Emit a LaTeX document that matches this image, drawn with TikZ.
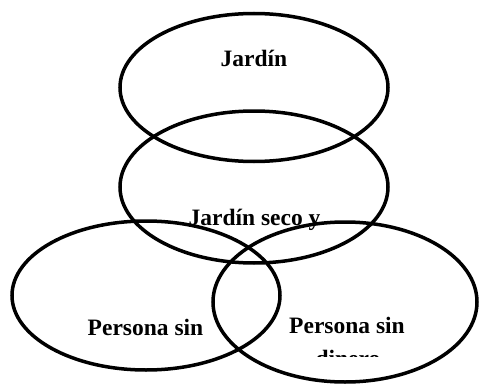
\documentclass[tikz,border=0pt]{standalone}
\usepackage{fontspec}
\setmainfont{Liberation Serif}
\usetikzlibrary{shapes.geometric}
\begin{document}
\begin{tikzpicture}[x=1pt,y=1pt,
  ring/.style={ellipse, draw=black, line width=3.5pt, inner sep=0pt},
  lbl/.style={font=\fontsize{23.5}{27}\selectfont\bfseries, inner sep=0pt, anchor=base}]
\useasboundingbox (0,0) rectangle (480,384);
\node[lbl] (t1) at (254,318) {Jardín};
\node[lbl] (t2) at (254.5,159) {Jardín seco y};
\node[lbl] (t3) at (145.5,49) {Persona sin};
\node[lbl] (t4) at (347,51) {Persona sin};
\begin{scope}
\clip (280,27.5) rectangle (420,40);
\node[lbl] (t5) at (348,18) {dinero};
\end{scope}
\node[ring, minimum width=268pt, minimum height=148pt] (e1) at (254,296.5) {};
\node[ring, minimum width=268pt, minimum height=152pt] (e2) at (254,197) {};
\node[ring, minimum width=268pt, minimum height=149pt] (e3) at (146,88.5) {};
\node[ring, minimum width=264pt, minimum height=160pt] (e4) at (345,82) {};
\end{tikzpicture}
\end{document}
